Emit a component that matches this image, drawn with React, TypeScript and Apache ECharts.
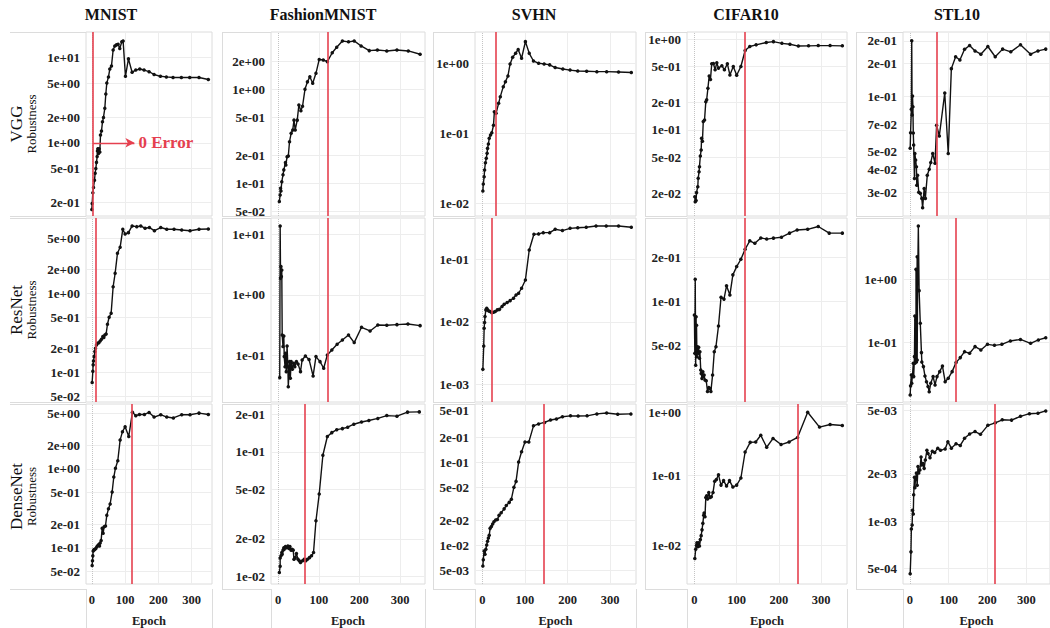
import React, { useEffect, useRef } from "react";
import * as echarts from "echarts";

const datasets = ["MNIST", "FashionMNIST", "SVHN", "CIFAR10", "STL10"];
const models = ["VGG", "ResNet", "DenseNet"];
const epochTicks = [0, 100, 200, 300];

// ---- VGG ----
const mnistVggEpochs = [0,1,3,5,8,10,12,14,16,17,18,20,22,24,26,29,32,35,39,42,45,50,54,59,64,69,74,79,84,90,94,101,110,121,132,144,157,172,187,206,224,244,269,294,322,350];
const mnistVggValues = [0.166,0.195,0.26,0.30,0.365,0.44,0.50,0.59,0.69,0.80,0.85,0.75,0.85,0.78,1.23,1.37,1.76,1.98,2.53,3.72,5.0,5.9,7.3,7.9,12.2,13.6,14.0,14.2,12.7,15.2,15.5,6.0,9.6,6.7,7.1,7.3,7.1,6.8,6.3,6.0,5.9,5.8,5.8,5.8,5.8,5.5];
const fashionVggEpochs = [3,5,6,7,9,12,14,18,19,22,25,28,32,36,39,42,47,51,56,60,66,72,78,85,93,101,111,121,133,144,158,173,187,204,224,244,267,292,320,349];
const fashionVggValues = [0.064,0.075,0.0885,0.083,0.104,0.123,0.139,0.166,0.157,0.192,0.195,0.277,0.34,0.37,0.47,0.37,0.47,0.68,0.59,0.66,1.0,1.2,1.36,1.16,1.48,2.08,2.05,1.97,2.45,2.8,3.27,3.2,3.27,2.89,2.58,2.62,2.56,2.62,2.56,2.36];
const svhnVggEpochs = [1,2,4,5,7,9,11,12,14,16,19,22,26,28,32,38,42,49,54,60,65,71,78,84,92,101,110,120,132,145,158,171,189,206,224,245,269,292,320,350];
const svhnVggValues = [0.015,0.0189,0.024,0.030,0.038,0.044,0.052,0.061,0.0704,0.085,0.095,0.102,0.13,0.204,0.193,0.268,0.334,0.464,0.547,0.66,0.98,1.22,1.39,1.58,1.18,2.04,1.39,1.08,1.0,0.98,0.95,0.87,0.83,0.80,0.777,0.77,0.76,0.76,0.75,0.74];
const cifarVggEpochs = [1,2,4,5,8,9,11,12,14,16,17,19,21,24,27,29,32,35,38,41,45,49,53,57,65,71,78,84,92,100,110,120,131,146,170,187,207,226,246,270,293,321,350];
const cifarVggValues = [0.0184,0.0162,0.0167,0.0204,0.0237,0.0293,0.0347,0.0394,0.0517,0.060,0.081,0.075,0.124,0.129,0.205,0.215,0.288,0.394,0.36,0.535,0.54,0.46,0.55,0.48,0.51,0.46,0.535,0.404,0.5,0.40,0.50,0.75,0.83,0.866,0.92,0.94,0.90,0.88,0.84,0.845,0.85,0.85,0.845];
const stlVggEpochs = [1,2,4,5,6,7,8,9,10,12,13,15,17,18,20,23,27,31,33,37,40,45,50,54,59,65,69,76,90,99,107,118,129,141,154,168,183,201,220,239,260,285,311,330,350];
const stlVggValues = [0.052,0.0632,0.0847,0.20,0.0789,0.1,0.0875,0.063,0.0542,0.0357,0.0488,0.045,0.0413,0.0328,0.0371,0.030,0.0296,0.0278,0.0247,0.0315,0.0278,0.0371,0.040,0.0435,0.0488,0.0431,0.0695,0.0607,0.104,0.0488,0.141,0.1636,0.157,0.1795,0.1884,0.176,0.169,0.186,0.1636,0.18,0.174,0.19,0.169,0.176,0.18];

// ---- ResNet ----
const mnistResEpochs = [1,3,4,5,7,9,11,14,17,21,25,29,33,36,39,43,47,52,58,64,70,77,85,93,100,110,121,135,147,160,173,188,207,225,247,270,295,322,350];
const mnistResValues = [0.074,0.103,0.124,0.139,0.158,0.183,0.201,0.222,0.233,0.237,0.249,0.262,0.283,0.275,0.297,0.306,0.405,0.497,0.558,1.21,1.79,3.21,3.82,6.46,5.64,5.86,7.12,6.98,7.12,6.65,6.8,6.21,6.8,6.46,6.46,6.33,6.2,6.46,6.52];
const fashionResEpochs = [4,5,6,7,8,9,10,12,14,15,17,18,20,22,24,25,28,30,32,35,38,41,45,49,55,59,67,76,86,93,103,112,121,132,145,158,173,187,205,226,245,267,292,319,349];
const fashionResValues = [0.043,13.8,1.88,2.94,2.01,2.59,0.218,0.14,0.21,0.0957,0.065,0.109,0.054,0.1436,0.065,0.0305,0.079,0.042,0.079,0.059,0.074,0.065,0.079,0.072,0.054,0.084,0.098,0.086,0.0458,0.0957,0.079,0.0614,0.102,0.123,0.153,0.18,0.218,0.163,0.292,0.254,0.319,0.316,0.323,0.331,0.311];
const svhnResEpochs = [1,3,4,5,6,8,10,12,15,18,22,26,30,35,40,46,51,58,65,73,79,85,92,101,110,121,132,143,158,171,188,206,224,244,267,291,320,350];
const svhnResValues = [0.00174,0.0041,0.00787,0.0097,0.0121,0.0155,0.0164,0.0155,0.0149,0.0146,0.014,0.0142,0.0146,0.0155,0.0158,0.0175,0.019,0.0203,0.0218,0.0238,0.0269,0.0286,0.0344,0.0467,0.141,0.251,0.255,0.267,0.267,0.302,0.288,0.313,0.32,0.325,0.341,0.341,0.341,0.325];
const cifarResEpochs = [0,1,2,3,4,5,5,6,7,9,10,12,13,15,16,18,20,21,23,25,28,31,34,37,39,43,47,51,57,63,70,76,84,91,100,110,120,131,143,157,171,187,206,225,243,268,293,319,350];
const cifarResValues = [0.081,0.0446,0.142,0.037,0.079,0.0446,0.069,0.0422,0.0494,0.0446,0.049,0.0412,0.0457,0.0343,0.0325,0.0301,0.0334,0.031,0.0317,0.0293,0.029,0.0245,0.0261,0.0257,0.0245,0.0317,0.0457,0.0494,0.0683,0.107,0.104,0.128,0.111,0.152,0.173,0.194,0.227,0.259,0.249,0.271,0.266,0.27,0.274,0.292,0.307,0.31,0.324,0.292,0.292];
const stlResEpochs = [1,2,4,5,7,9,10,12,13,13,14,16,16,17,19,19,20,22,24,27,30,31,35,39,43,47,50,54,60,65,70,77,84,91,99,109,119,130,141,154,168,183,200,218,237,259,285,311,331,350];
const stlResValues = [0.0147,0.0205,0.0305,0.0225,0.0305,0.0466,0.0287,0.0594,0.26,0.0466,0.0594,0.225,1.42,0.049,2.25,0.0527,0.67,6.87,0.655,0.2,0.0687,0.049,0.0413,0.0294,0.0239,0.02,0.0166,0.0225,0.0287,0.0212,0.0287,0.0344,0.0423,0.0239,0.027,0.0344,0.0478,0.0573,0.0712,0.067,0.0855,0.0757,0.0929,0.0896,0.0929,0.105,0.111,0.0963,0.109,0.118];

// ---- DenseNet ----
const mnistDenseEpochs = [1,2,3,4,6,9,12,15,18,21,23,25,28,31,34,37,41,45,50,55,61,66,71,78,85,92,100,111,122,132,143,158,172,187,207,225,245,270,295,322,350];
const mnistDenseValues = [0.0594,0.0685,0.0789,0.091,0.094,0.0954,0.098,0.103,0.107,0.11,0.105,0.115,0.124,0.177,0.153,0.185,0.189,0.258,0.312,0.36,0.51,0.789,1.02,1.27,2.32,2.97,3.43,2.58,5.25,4.73,4.91,4.91,5.2,4.55,4.87,4.55,4.43,4.87,4.87,5.1,4.91];
const fashionDenseEpochs = [3,5,5,7,9,10,12,14,15,18,21,24,27,29,32,34,37,39,42,45,49,52,55,60,64,68,72,77,82,87,93,101,110,121,132,144,158,171,186,205,223,245,267,292,318,347];
const fashionDenseValues = [0.0107,0.012,0.014,0.0146,0.0155,0.015,0.0162,0.0169,0.0165,0.0173,0.0169,0.0175,0.0167,0.0173,0.0162,0.0165,0.0162,0.0137,0.0141,0.0152,0.0137,0.0133,0.0129,0.0133,0.0137,0.0133,0.0137,0.0141,0.0146,0.0155,0.0279,0.0458,0.094,0.133,0.143,0.151,0.154,0.158,0.167,0.174,0.179,0.186,0.196,0.194,0.209,0.21];
const svhnDenseEpochs = [1,2,4,6,8,10,12,14,16,18,21,24,27,31,35,39,44,51,56,63,68,74,79,85,92,100,109,120,132,146,160,174,188,207,225,246,269,292,318,349];
const svhnDenseValues = [0.00559,0.00668,0.00851,0.00776,0.0089,0.01,0.0111,0.0122,0.0131,0.0159,0.0167,0.0179,0.0191,0.02,0.0203,0.0228,0.0245,0.0273,0.0299,0.0327,0.0357,0.0498,0.0585,0.1,0.133,0.174,0.174,0.273,0.288,0.3,0.321,0.33,0.351,0.36,0.358,0.36,0.38,0.39,0.376,0.38];
const cifarDenseEpochs = [1,3,5,6,8,10,12,14,16,18,20,22,23,25,27,29,31,34,37,40,44,48,52,57,63,69,76,83,91,100,110,120,132,145,157,171,186,205,224,244,268,296,321,350];
const cifarDenseValues = [0.0065,0.0088,0.01,0.0109,0.0096,0.0109,0.0098,0.0121,0.0138,0.0167,0.0207,0.0271,0.0292,0.0257,0.0488,0.0515,0.0462,0.0573,0.0488,0.05,0.0573,0.0834,0.088,0.103,0.0733,0.085,0.071,0.085,0.0687,0.0733,0.0927,0.219,0.301,0.305,0.381,0.256,0.343,0.28,0.305,0.354,0.816,0.499,0.543,0.526];
const stlDenseEpochs = [1,3,4,6,7,9,10,12,13,15,17,19,21,23,26,29,31,34,37,40,44,47,52,58,64,72,79,91,98,107,119,130,141,154,168,182,201,220,238,262,285,308,330,350];
const stlDenseValues = [0.000464,0.000638,0.00089,0.000945,0.00117,0.00111,0.00147,0.0019,0.00163,0.00188,0.00202,0.00169,0.00222,0.00202,0.00211,0.00255,0.00227,0.00232,0.00216,0.00244,0.00281,0.00268,0.00252,0.00277,0.00272,0.0029,0.00281,0.00287,0.00319,0.0029,0.00309,0.00302,0.00335,0.00357,0.0037,0.00355,0.00405,0.0042,0.00439,0.00437,0.00462,0.0048,0.00483,0.005];

// epoch at which training error reaches zero (red line), row by row
const zeroErrorEpochs = [4, 121, 32, 120, 70, 12, 121, 22, 120, 119, 121, 66, 144, 244, 219];

// y tick values per panel (log axes)
const yTicks = [
  [0.2, 0.5, 1, 2, 5, 10],
  [0.05, 0.1, 0.2, 0.5, 1, 2],
  [0.01, 0.1, 1],
  [0.02, 0.05, 0.1, 0.2, 0.5, 1],
  [0.03, 0.04, 0.05, 0.07, 0.1, 0.15, 0.2],
  [0.05, 0.1, 0.2, 0.5, 1, 2, 5],
  [0.1, 1, 10],
  [0.001, 0.01, 0.1],
  [0.05, 0.1, 0.2],
  [0.1, 1],
  [0.05, 0.1, 0.2, 0.5, 1, 2, 5],
  [0.01, 0.02, 0.05, 0.1, 0.2],
  [0.005, 0.01, 0.02, 0.05, 0.1, 0.2, 0.5],
  [0.01, 0.1, 1],
  [0.0005, 0.001, 0.002, 0.005],
];
// y domains per panel
const yDomains = [
  [0.139, 19.8], [0.0449, 4.07], [0.0066, 2.8], [0.01127, 1.2], [0.0223, 0.223],
  [0.042, 8.98], [0.017, 18.7], [0.00052, 0.458], [0.0208, 0.37], [0.0114, 9.2],
  [0.0347, 6.66], [0.00865, 0.243], [0.0034, 0.5], [0.00279, 1.07], [0.000399, 0.00553],
];

const allEpochs = [
  mnistVggEpochs, fashionVggEpochs, svhnVggEpochs, cifarVggEpochs, stlVggEpochs,
  mnistResEpochs, fashionResEpochs, svhnResEpochs, cifarResEpochs, stlResEpochs,
  mnistDenseEpochs, fashionDenseEpochs, svhnDenseEpochs, cifarDenseEpochs, stlDenseEpochs,
];
const allValues = [
  mnistVggValues, fashionVggValues, svhnVggValues, cifarVggValues, stlVggValues,
  mnistResValues, fashionResValues, svhnResValues, cifarResValues, stlResValues,
  mnistDenseValues, fashionDenseValues, svhnDenseValues, cifarDenseValues, stlDenseValues,
];

// layout
const colLeft = [86, 271, 475, 687, 903];
const colRight = [212, 425, 636, 847, 1063];
const cellLeft = [10, 222, 433, 645, 856];
const rowTop = [32, 218, 404];
const rowBottom = [216, 402, 589];

const RED = "#e5404f";
const INK = "#111111";
const FRAME = "#dcdcdc";
const GRIDC = "#ededed";
const FONT = '"Liberation Serif", "DejaVu Serif", serif';

function sci(v: number): string {
  let e = Math.floor(Math.log10(v) + 1e-9);
  let m = Math.round(v / Math.pow(10, e) + 1e-9);
  if (m >= 10) { m = 1; e += 1; }
  const ae = Math.abs(e);
  return `${m}e${e < 0 ? "-" : "+"}${ae < 10 ? "0" + ae : ae}`;
}

export default function App() {
  const ref = useRef<HTMLDivElement>(null);
  useEffect(() => {
    const chart = echarts.init(ref.current!, undefined, { renderer: "svg" });
    const grids: any[] = [];
    const xAxes: any[] = [];
    const yAxes: any[] = [];
    const series: any[] = [];
    const graphics: any[] = [];

    for (let r = 0; r < 3; r++) {
      for (let c = 0; c < 5; c++) {
        const i = r * 5 + c;
        grids.push({
          left: colLeft[c], top: rowTop[r],
          width: colRight[c] - colLeft[c], height: rowBottom[r] - rowTop[r],
          show: true, borderColor: FRAME, borderWidth: 1, backgroundColor: "transparent",
        });
        xAxes.push({
          type: "value", gridIndex: i, min: -17.5, max: 361,
          axisLine: { show: false }, axisTick: { show: false }, splitLine: { show: false },
          axisLabel: r === 2
            ? { show: true, customValues: epochTicks, fontFamily: FONT, fontWeight: "bold", fontSize: 12.5, color: "#222", margin: 9 }
            : { show: false },
          name: r === 2 ? "Epoch" : "",
          nameLocation: "middle", nameGap: 30,
          nameTextStyle: { fontFamily: FONT, fontWeight: "bold", fontSize: 12.5, color: "#222" },
        });
        const [lo, hi] = yDomains[i];
        yAxes.push({
          type: "value", gridIndex: i, min: Math.log10(lo), max: Math.log10(hi),
          axisLine: { show: false }, axisTick: { show: false }, splitLine: { show: false },
          axisLabel: {
            show: true, customValues: yTicks[i].map((t) => Math.log10(t)),
            formatter: (v: number) => sci(Math.pow(10, v)),
            fontFamily: FONT, fontWeight: "bold", fontSize: 13, color: "#222", margin: 6,
            verticalAlignMaxLabel: (i === 12 || i === 13) ? "top" : null,
          },
        });
        // grid lines (under the data)
        series.push({
          type: "line", xAxisIndex: i, yAxisIndex: i, data: [], silent: true, z: 1,
          markLine: {
            z: 1, silent: true, symbol: ["none", "none"], animation: false, label: { show: false },
            lineStyle: { color: GRIDC, width: 1, type: "solid" },
            emphasis: { disabled: true },
            data: [
              ...yTicks[i].map((t) => ({ yAxis: Math.log10(t) })),
              ...[100, 200, 300].map((x) => ({ xAxis: x })),
              { xAxis: 0, lineStyle: { color: "#c4c4c4", type: "dotted", width: 1 } },
            ],
          },
        });
        const ml: any[] = [{ xAxis: zeroErrorEpochs[i] }];
        if (i === 0) {
          ml.push([
            { coord: [zeroErrorEpochs[0], 0], symbol: "none" },
            {
              coord: [128, 0], symbol: "arrow", symbolSize: [7, 9],
              label: {
                show: true, position: "end", formatter: "0 Error", distance: 4,
                color: RED, fontFamily: FONT, fontWeight: "bold", fontSize: 17,
              },
              lineStyle: { color: RED, width: 1.3 },
            },
          ]);
        }
        series.push({
          type: "line", xAxisIndex: i, yAxisIndex: i, z: 3,
          data: allEpochs[i].map((e, j) => [e, Math.log10(allValues[i][j])]),
          symbol: "circle", symbolSize: 3.5, showSymbol: true,
          lineStyle: { color: INK, width: 1.4 }, itemStyle: { color: INK },
          clip: true,
          markLine: {
            z: 6, silent: true, symbol: ["none", "none"], animation: false, label: { show: false },
            lineStyle: { color: RED, width: 1.6, type: "solid" },
            emphasis: { disabled: true },
            data: ml,
          },
        });

        // frame lines of label area
        graphics.push({ type: "line", silent: true, shape: { x1: cellLeft[c], y1: rowTop[r] + 0.5, x2: colLeft[c], y2: rowTop[r] + 0.5 }, style: { stroke: FRAME, lineWidth: 1 } });
        graphics.push({ type: "line", silent: true, shape: { x1: cellLeft[c], y1: rowBottom[r] + 0.5, x2: colLeft[c], y2: rowBottom[r] + 0.5 }, style: { stroke: FRAME, lineWidth: 1 } });
        if (c > 0) {
          graphics.push({ type: "line", silent: true, shape: { x1: cellLeft[c] + 0.5, y1: rowTop[r], x2: cellLeft[c] + 0.5, y2: rowBottom[r] }, style: { stroke: FRAME, lineWidth: 1 } });
        }
      }
    }
    for (let c = 0; c < 5; c++) {
      graphics.push({ type: "line", silent: true, shape: { x1: colLeft[c] + 0.5, y1: 589, x2: colLeft[c] + 0.5, y2: 628 }, style: { stroke: FRAME, lineWidth: 1 } });
      graphics.push({ type: "line", silent: true, shape: { x1: colRight[c] + 0.5, y1: 589, x2: colRight[c] + 0.5, y2: 628 }, style: { stroke: FRAME, lineWidth: 1 } });
      graphics.push({
        type: "text", silent: true, x: cellLeft[c] + 101, y: 14,
        style: { text: datasets[c], fontFamily: FONT, fontWeight: "bold", fontSize: 16, fill: "#111", align: "center", verticalAlign: "middle" },
      });
    }
    for (let r = 0; r < 3; r++) {
      const cy = (rowTop[r] + rowBottom[r]) / 2;
      graphics.push({
        type: "text", silent: true, x: 16, y: cy, rotation: Math.PI / 2,
        style: { text: models[r], fontFamily: FONT, fontSize: 17, fill: "#111", align: "center", verticalAlign: "middle" },
      });
      graphics.push({
        type: "text", silent: true, x: 31, y: cy, rotation: Math.PI / 2,
        style: { text: "Robustness", fontFamily: FONT, fontSize: 13, fill: "#111", align: "center", verticalAlign: "middle" },
      });
    }

    chart.setOption({
      animation: false,
      backgroundColor: "#ffffff",
      grid: grids, xAxis: xAxes, yAxis: yAxes, series, graphic: graphics,
    });
    return () => chart.dispose();
  }, []);
  return <div ref={ref} style={{ position: "absolute", left: 0, top: 0, width: 1050, height: 628 }} />;
}
